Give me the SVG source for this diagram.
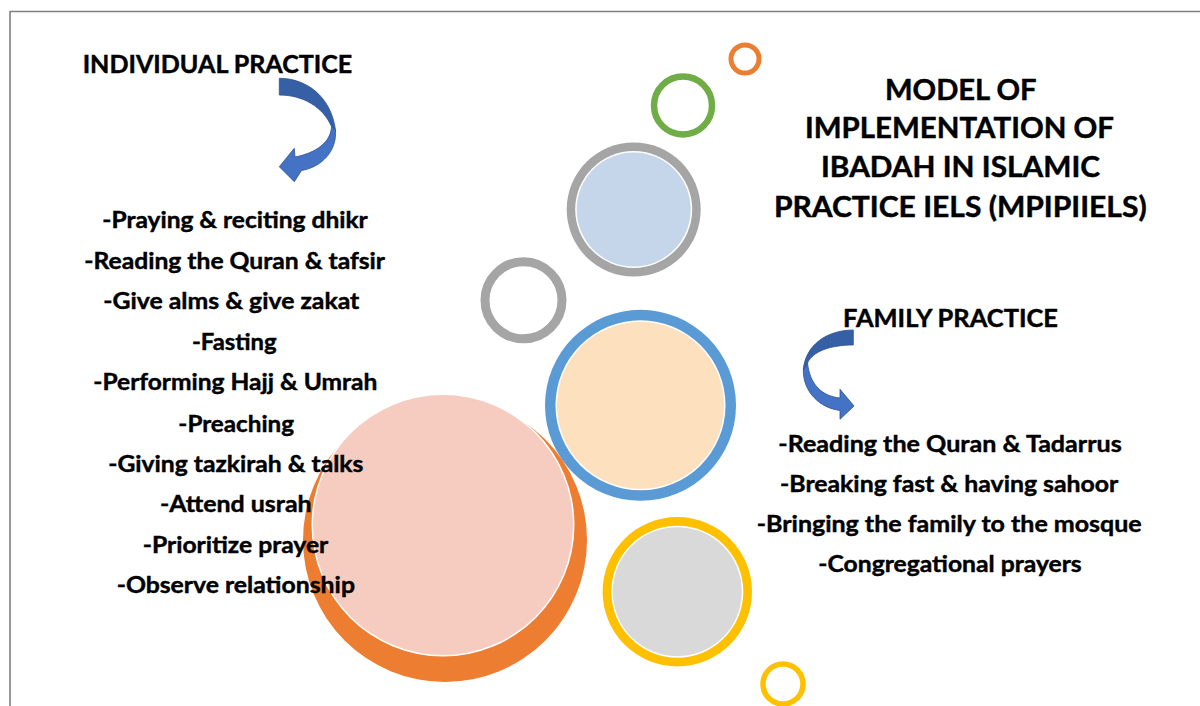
<svg xmlns="http://www.w3.org/2000/svg" width="1200" height="706" viewBox="0 0 1200 706">
<defs>
<style>
.t{font-family:Lato,"Open Sans","Liberation Sans",sans-serif;font-weight:bold;fill:#000;stroke:#000;stroke-width:0.45;text-anchor:middle}
.h{font-size:25px}
.ti{font-size:28.5px}
.li{font-size:23.5px}
.ring{fill:none}
.adark{fill:#3560A6;stroke:#2F528F;stroke-width:0.8}
.alight{fill:#4472C4;stroke:#2F528F;stroke-width:0.8}
</style>
</defs>
<rect width="1200" height="706" fill="#fff"/>
<g id="frame" stroke="#7f7f7f" stroke-width="1.6" fill="none">
<line x1="10" y1="11.5" x2="1200" y2="11.5"/>
<line x1="10" y1="11" x2="10" y2="706"/>
</g>

<g id="bubble-orange-small"><circle class="ring" cx="745" cy="59" r="14" stroke="#ED7D31" stroke-width="5"/></g>
<g id="bubble-green"><circle class="ring" cx="683" cy="105.5" r="29" stroke="#70AD47" stroke-width="6.5"/></g>
<g id="bubble-blue-top">
<circle cx="633.7" cy="209.5" r="67" fill="#A5A5A5"/>
<circle cx="633.7" cy="209.5" r="58.5" fill="#fff"/>
<circle cx="633.7" cy="209.5" r="57" fill="#C5D5EA"/>
</g>
<g id="bubble-gray-small"><circle class="ring" cx="523.5" cy="300.3" r="38.5" stroke="#A5A5A5" stroke-width="9"/></g>
<g id="bubble-peach">
<circle cx="640.5" cy="405.3" r="95.5" fill="#5B9BD5"/>
<circle cx="640.5" cy="405.3" r="85" fill="#fff"/>
<circle cx="640.5" cy="405.3" r="83.5" fill="#FDE0BE"/>
</g>
<g id="bubble-big">
<circle cx="445" cy="540" r="142" fill="#ED7D31"/>
<circle cx="443" cy="525" r="131.5" fill="#fff"/>
<circle cx="443" cy="525" r="130" fill="#F5CCBF"/>
</g>
<g id="bubble-gray">
<circle cx="677.3" cy="591.7" r="74.7" fill="#FFC000"/>
<circle cx="677.3" cy="591.7" r="66" fill="#fff"/>
<circle cx="677.3" cy="591.7" r="64.5" fill="#D9D9D9"/>
</g>
<g id="bubble-yellow-small"><circle class="ring" cx="783" cy="684" r="20" stroke="#FFC000" stroke-width="5.5"/></g>

<g id="connectors">
<g id="arrow-individual">
<path class="adark" d="M279.3,78.3 C306,78.3 331,96 335.5,130 L331.5,126.5 C323,107 303,95 279.3,95 Z"/>
<path class="alight" d="M335.5,130 C337,151 322,167 301.5,170.5 L294.3,181.7 L279.3,166.7 L294.3,148.3 L295,157 C316,153 331,142 331.5,126.5 Z"/>
</g>
<g id="arrow-family">
<path class="adark" d="M853.3,330 C826,330 805,346 803.3,370 L807.5,363 C813,351 831,345 853.3,345 Z"/>
<path class="alight" d="M803.3,370 C803,392 820,408 840,410.5 L840,419.3 L854,406 L840,389.3 L840,398 C822,396 810,385 807.5,363 Z"/>
</g>
</g>

<g id="title">
<text class="t ti" x="960.8" y="100" textLength="151.7" lengthAdjust="spacingAndGlyphs">MODEL OF</text>
<text class="t ti" x="959.5" y="138.3" textLength="309" lengthAdjust="spacingAndGlyphs">IMPLEMENTATION OF</text>
<text class="t ti" x="960.5" y="176.7" textLength="279" lengthAdjust="spacingAndGlyphs">IBADAH IN ISLAMIC</text>
<text class="t ti" x="960.3" y="216.7" textLength="372.7" lengthAdjust="spacingAndGlyphs">PRACTICE IELS (MPIPIIELS)</text>
</g>

<g id="individual-practice">
<text class="t h" x="217.5" y="73.3" textLength="269.6" lengthAdjust="spacingAndGlyphs">INDIVIDUAL PRACTICE</text>
<text class="t li" x="235" y="228.3" textLength="265.4" lengthAdjust="spacingAndGlyphs">-Praying &amp; reciting dhikr</text>
<text class="t li" x="234.7" y="268.7" textLength="300.7" lengthAdjust="spacingAndGlyphs">-Reading the Quran &amp; tafsir</text>
<text class="t li" x="231.3" y="309" textLength="256" lengthAdjust="spacingAndGlyphs">-Give alms &amp; give zakat</text>
<text class="t li" x="234.3" y="349.5" textLength="84.7" lengthAdjust="spacingAndGlyphs">-Fasting</text>
<text class="t li" x="235.3" y="390" textLength="284" lengthAdjust="spacingAndGlyphs">-Performing Hajj &amp; Umrah</text>
<text class="t li" x="236.2" y="431.5" textLength="115.7" lengthAdjust="spacingAndGlyphs">-Preaching</text>
<text class="t li" x="235.8" y="471.8" textLength="255" lengthAdjust="spacingAndGlyphs">-Giving tazkirah &amp; talks</text>
<text class="t li" x="235.8" y="512" textLength="151.7" lengthAdjust="spacingAndGlyphs">-Attend usrah</text>
<text class="t li" x="235.5" y="552.7" textLength="185.6" lengthAdjust="spacingAndGlyphs">-Prioritize prayer</text>
<text class="t li" x="235.8" y="593.3" textLength="238.3" lengthAdjust="spacingAndGlyphs">-Observe relationship</text>
</g>

<g id="family-practice">
<text class="t h" x="950.5" y="327" textLength="215" lengthAdjust="spacingAndGlyphs">FAMILY PRACTICE</text>
<text class="t li" x="950" y="451.7" textLength="343.4" lengthAdjust="spacingAndGlyphs">-Reading the Quran &amp; Tadarrus</text>
<text class="t li" x="949.2" y="491.7" textLength="338.3" lengthAdjust="spacingAndGlyphs">-Breaking fast &amp; having sahoor</text>
<text class="t li" x="949.2" y="531.7" textLength="385" lengthAdjust="spacingAndGlyphs">-Bringing the family to the mosque</text>
<text class="t li" x="950" y="571.7" textLength="263.4" lengthAdjust="spacingAndGlyphs">-Congregational prayers</text>
</g>
</svg>
